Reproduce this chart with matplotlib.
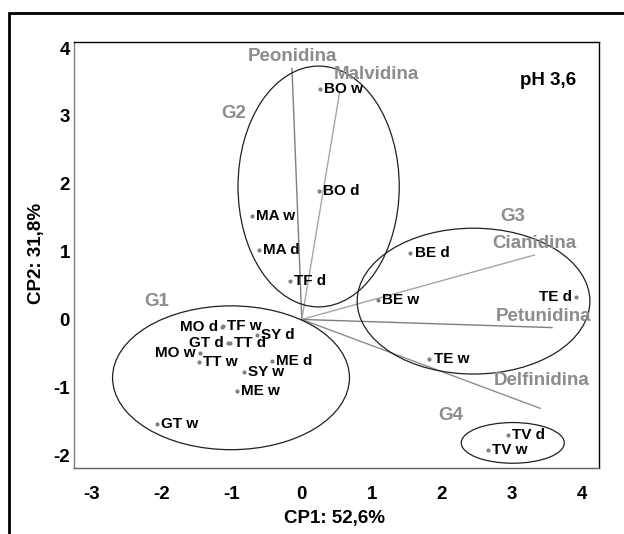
import numpy as np
import matplotlib
matplotlib.use("Agg")
import matplotlib.pyplot as plt
from matplotlib.patches import Ellipse, Rectangle

plt.rcParams['font.family'] = ['Liberation Sans', 'DejaVu Sans']
plt.rcParams['axes.unicode_minus'] = False

# Sample scores (CP1, CP2)
samples = ['BO w', 'BO d', 'MA w', 'MA d', 'TF d', 'BE w', 'BE d', 'TE d', 'TE w',
           'TV d', 'TV w', 'TF w', 'SY d', 'TT d', 'GT d', 'MO d', 'MO w', 'TT w',
           'ME d', 'SY w', 'ME w', 'GT w']
cp1 = [0.26, 0.24, -0.71, -0.61, -0.17, 1.09, 1.55, 3.91, 1.82,
       2.94, 2.66, -1.12, -0.64, -1.03, -1.06, -1.14, -1.45, -1.47,
       -0.43, -0.82, -0.93, -2.07]
cp2 = [3.40, 1.90, 1.53, 1.02, 0.57, 0.28, 0.98, 0.33, -0.59,
       -1.70, -1.93, -0.10, -0.23, -0.34, -0.35, -0.11, -0.50, -0.62,
       -0.61, -0.77, -1.05, -1.54]
# labels written on the left side of their point
left_labels = ['TE d', 'GT d', 'MO d', 'MO w']

# Anthocyanin loadings (arrow ends)
pigments = ['Peonidina', 'Malvidina', 'Cianidina', 'Petunidina', 'Delfinidina']
load_x = [-0.14, 0.54, 3.32, 3.57, 3.40]
load_y = [3.70, 3.35, 0.95, -0.12, -1.31]
load_lx = [-0.14, 1.06, 3.32, 3.45, 3.42]
load_ly = [3.88, 3.61, 1.12, 0.04, -0.90]
load_col = ['#7f7f7f', '#a6a6a6', '#a6a6a6', '#7f7f7f', '#8c8c8c']

# Groups: centre, width, height, label position
groups = ['G1', 'G2', 'G3', 'G4']
grp_cx = [-1.01, 0.24, 2.45, 3.01]
grp_cy = [-0.86, 1.96, 0.27, -1.82]
grp_w = [3.38, 2.30, 3.32, 1.47]
grp_h = [2.12, 3.55, 2.15, 0.60]
grp_lx = [-2.07, -0.97, 3.01, 2.13]
grp_ly = [0.26, 3.04, 1.52, -1.41]

fig = plt.figure(figsize=(6.24, 5.34), dpi=100)
ax = fig.add_axes([74 / 624, 66 / 534, 525 / 624, 426 / 534])

# pigment vectors
for name, x, y, lx, ly, c in zip(pigments, load_x, load_y, load_lx, load_ly, load_col):
    ax.plot([0, x], [0, y], color=c, lw=1.0, zorder=1)
    ax.text(lx, ly, name, color='#8c8c8c', fontsize=13.5, fontweight='bold',
            ha='center', va='center', zorder=4)

# group ellipses
for g, cx, cy, w, h, lx, ly in zip(groups, grp_cx, grp_cy, grp_w, grp_h, grp_lx, grp_ly):
    ax.add_patch(Ellipse((cx, cy), w, h, fill=False, edgecolor='#202020', lw=0.9, zorder=2))
    ax.text(lx, ly, g, color='#8c8c8c', fontsize=13.5, fontweight='bold',
            ha='center', va='center')

# sample points
ax.scatter(cp1, cp2, s=9, color='#808080', zorder=3, linewidths=0)
for name, x, y in zip(samples, cp1, cp2):
    if name in left_labels:
        ax.annotate(name, (x, y), xytext=(-3, 0), textcoords='offset points',
                    ha='right', va='center', fontsize=11, fontweight='bold', zorder=5)
    else:
        ax.annotate(name, (x, y), xytext=(3, 0), textcoords='offset points',
                    ha='left', va='center', fontsize=11, fontweight='bold', zorder=5)

ax.text(3.51, 3.52, 'pH 3,6', fontsize=13.5, fontweight='bold', ha='center', va='center')

ax.set_xlim(-3.25, 4.24)
ax.set_ylim(-2.19, 4.09)
ax.set_xticks(np.arange(-3, 5))
ax.set_yticks(np.arange(-2, 5))
ax.tick_params(length=0, labelsize=13.5)
ax.tick_params(axis='x', pad=13)
ax.tick_params(axis='y', pad=3)
for lab in ax.get_xticklabels() + ax.get_yticklabels():
    lab.set_fontweight('bold')
ax.spines['left'].set_color('#808080')
ax.spines['bottom'].set_color('#606060')
for s in ['top', 'right']:
    ax.spines[s].set_color('black')
for s in ax.spines.values():
    s.set_linewidth(1.0)

fig.text(334 / 624, 1 - 518 / 534, 'CP1: 52,6%', fontsize=13.5, fontweight='bold',
         ha='center', va='center')
fig.text(36 / 624, 1 - 253 / 534, 'CP2: 31,8%', fontsize=13.5, fontweight='bold',
         ha='center', va='center', rotation=90)

# outer frame
fig.add_artist(Rectangle((9 / 624, -0.1), 1.0, 1 - 13 / 534 + 0.1, transform=fig.transFigure,
                         fill=False, edgecolor='black', lw=2))

fig.savefig('out.png', dpi=100)
